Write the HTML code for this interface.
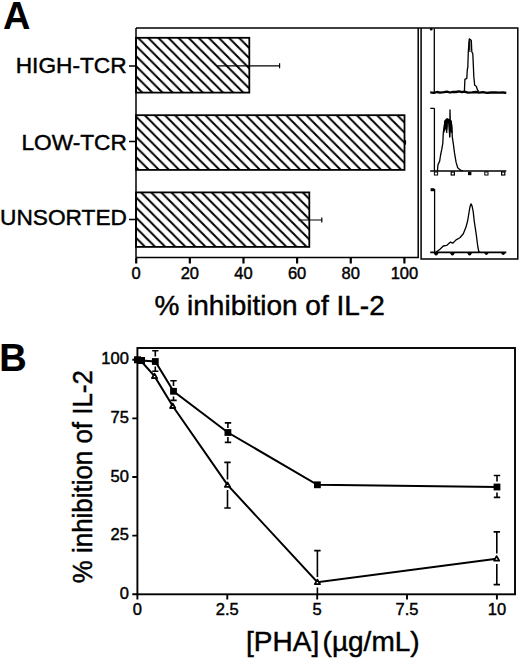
<!DOCTYPE html>
<html><head><meta charset="utf-8"><style>
html,body{margin:0;padding:0;background:#fff;width:520px;height:658px;overflow:hidden}
svg{display:block}
text{font-family:"Liberation Sans",sans-serif;fill:#000;stroke:#000;stroke-width:0.45px}
</style></head><body>
<svg width="520" height="658" viewBox="0 0 520 658">
<defs>
<pattern id="h" patternUnits="userSpaceOnUse" width="10.1" height="10.1" patternTransform="translate(140.6,0)">
<path d="M-5,-5 L15.1,15.1 M-5,5.1 L5,15.1 M5.1,-5 L15.1,5" stroke="#000" stroke-width="2.0" fill="none"/>
</pattern>
</defs>
<!-- Panel A -->
<text x="3.1" y="29" font-size="38" font-weight="bold" style="stroke:none">A</text>
<!-- bars -->
<g stroke="#000" stroke-width="1.8" fill="url(#h)">
<rect x="136" y="37.8" width="113.3" height="54.8"/>
<rect x="136" y="115.2" width="268.5" height="54.7"/>
<rect x="136" y="192.4" width="173.3" height="54.5"/>
</g>
<!-- frames -->
<g stroke="#000" fill="none" stroke-width="1.5">
<path d="M136,28 H517.8 V258.9 H421.1 V28"/>
<path d="M136,257.6 V28 M136,257.6 H418.2 V28"/>
<path d="M129,66 H136 M129,141.5 H136 M129,219.5 H136"/>
</g>
<g stroke="#000" stroke-width="2.2">
<path d="M136.2,257.6 V263.5 M189.84,257.6 V263.5 M243.48,257.6 V263.5 M297.12,257.6 V263.5 M350.76,257.6 V263.5 M404.4,257.6 V263.5"/>
</g>
<!-- error bars -->
<g stroke="#000" stroke-width="1.2" fill="none">
<path d="M217.3,65.8 H279.6 M279.6,63.3 V68.3"/>
<path d="M405.5,140.3 V144.6"/>
<path d="M298.3,220 H321.8 M321.8,217.5 V222.5"/>
</g>
<g font-size="22.7" text-anchor="end" style="stroke-width:0.6px">
<text x="126.6" y="72.6">HIGH-TCR</text>
<text x="126.9" y="149.7">LOW-TCR</text>
<text x="126.9" y="225.2">UNSORTED</text>
</g>
<g font-size="16.5" text-anchor="middle">
<text x="136.2" y="278.8">0</text>
<text x="189.84" y="278.8">20</text>
<text x="243.48" y="278.8">40</text>
<text x="297.12" y="278.8">60</text>
<text x="350.76" y="278.8">80</text>
<text x="404.4" y="278.8">100</text>
</g>
<text x="154.4" y="314.6" font-size="28">% inhibition of IL-2</text>

<!-- histograms -->
<g stroke="#000" fill="none" stroke-width="1.3" stroke-linejoin="round">
<!-- hist1 -->
<path d="M434.3,28.6 V92"/>
<circle cx="431.2" cy="29.3" r="1.3" fill="#000" stroke="none"/>
<polyline stroke-width="2.3" points="430.2,92.4 434,92.8 437,92 440,92.6 444,92.2 447,91.6 450,92.5 453,91.8 456,92 459,91.4 462,92.2 464.4,91.6 468,92.6 472,92.4 476,92 479,92.6 483,92.2 487,92.8 491,92.5 495,92.4 499,92.7 503,92.5 506.3,92.9"/>
<polyline points="464.4,91.2 464.9,79.4 466.8,78.4 467.3,69.5 467.8,67.5 468.3,51.7 468.8,44.8 469.3,38.9 470.3,39.5 471.3,40.4 471.8,51.7 472.8,53.7 473.3,64.6 473.8,76.4 474.7,85.3 476.2,86.3 477.7,90.2 478.7,91.2"/>
<path d="M469.9,40 V52 M469.2,41 V50" stroke-width="1"/>
<!-- hist2 -->
<path d="M434.4,108.2 V171 M430.3,108.4 H434.4"/>
<path d="M430.2,171 H506.3" stroke-width="1.7"/>
<polyline points="437.4,171 438,164.6 439.6,161.4 440.6,155 441.7,149.7 442.8,143.3 443.3,132.7 444.4,125.2 444.9,121 447,118.8 449,119.5 449.7,137 450,109.8 450.3,122 451.2,121 451.8,126.3 452.3,136.9 453.4,144.4 454.5,152.9 456.1,162.4 457.7,167.8 460.9,170.4 463,171"/>
<path d="M443.6,133 L444.4,125.2 L444.9,121 L447,118.8 L451.2,121 L451.8,126.3 L452.1,133 L450.3,131 L449.7,137 L448.7,123 L447.8,123 L446.8,133 L445.5,128 Z" fill="#000" stroke-width="0.8"/>
<!-- hist3 -->
<path d="M434.6,188.9 V252.1"/>
<rect x="430.6" y="188.2" width="3.6" height="3" fill="#000" stroke="none"/>
<path d="M430.2,252.4 H506.3" stroke-width="1.8"/>
<polyline points="436.1,252.1 440,249.3 443.3,246 446.6,245.4 450.5,242.1 452.7,243.2 456.1,239.9 459.9,237.7 463.3,233.8 466,227.1 467.7,220.5 468.8,213.8 469.9,207.2 471,203.8 472.1,206.1 473.2,211.6 474.3,221.6 475.5,229.3 476.6,237.1 477.7,246 478.8,251.5 480,252.3"/>
</g>
<g fill="#000" stroke="none">
<rect x="434.4" y="172" width="3.2" height="3" fill="#fff" stroke="#000" stroke-width="1"/>
<rect x="451.2" y="172" width="3.2" height="3" fill="#fff" stroke="#000" stroke-width="1.2"/>
<rect x="468" y="171.8" width="3.4" height="3.4"/>
<rect x="484.8" y="172" width="3.2" height="3" fill="#fff" stroke="#000" stroke-width="1"/>
<rect x="501.6" y="172" width="3.2" height="3" fill="#fff" stroke="#000" stroke-width="1.2"/>
<path d="M433.6,253 Q436.1,258 438.6,253 Z M450,253 Q452.4,258 454.8,253 Z M467.2,253 Q469.6,258 472,253 Z M484.2,253 Q486.4,257 488.6,253 Z M501,253 Q503.2,257 505.4,253 Z"/>
</g>

<!-- Panel B -->
<text x="-0.8" y="371" font-size="38" font-weight="bold" style="stroke-width:0.2px">B</text>
<g stroke="#000" fill="none" stroke-width="1.9">
<rect x="137.4" y="348" width="377.6" height="246.3"/>
<path d="M132.3,594.3 H137.4 M132.3,535.65 H137.4 M132.3,477 H137.4 M132.3,418.35 H137.4 M132.3,359.7 H137.4"/>
<path d="M137.4,594.3 V599.5 M227.3,594.3 V599.5 M317.2,594.3 V599.5 M407.0,594.3 V599.5 M496.9,594.3 V599.5"/>
</g>
<g font-size="16.5" text-anchor="end">
<text x="128.9" y="364.2">100</text>
<text x="128.9" y="422.85">75</text>
<text x="128.9" y="481.5">50</text>
<text x="128.9" y="540.15">25</text>
<text x="128.9" y="598.8">0</text>
</g>
<g font-size="16.5" text-anchor="middle">
<text x="137.4" y="615">0</text>
<text x="227.3" y="615">2.5</text>
<text x="317.2" y="615">5</text>
<text x="407.0" y="615">7.5</text>
<text x="496.9" y="615">10</text>
</g>
<text font-size="28" transform="translate(92,582.3) rotate(-90) scale(0.925,1)" x="-1">% inhibition of IL-2</text>
<text x="246.1" y="651.3" font-size="28">[PHA]</text>
<text x="322.6" y="651.3" font-size="28">(µg/mL)</text>

<!-- data lines -->
<g stroke="#000" stroke-width="2" fill="none">
<polyline points="137.4,359.7 141.5,360.5 155.3,361.5 173.5,391.3 227.9,432.5 317.4,484.8 497,487"/>
<polyline points="137.5,360 141,361 154.5,376.2 172.7,406 227.5,484.9 317.4,582.3 496.6,558.8"/>
</g>
<!-- error bars -->
<g stroke="#000" stroke-width="1.6" fill="none">
<path d="M152.2,350.8 H158.4 M155.3,350.8 V356.5 M155.3,366.5 V371.2 M152.2,371.2 H158.4"/>
<path d="M170.3,380.8 H176.7 M173.5,380.8 V386 M173.5,396.5 V400.4 M170.3,400.4 H176.7"/>
<path d="M224.8,422.9 H231.2 M227.9,422.9 V428 M227.9,437 V442.4 M224.8,442.4 H231.2"/>
<path d="M493.8,475.5 H500.2 M497,475.5 V481.5 M497,492.5 V497.4 M493.8,497.4 H500.2"/>
<path d="M224.3,462.4 H230.7 M227.5,462.4 V479.5 M227.5,490 V508 M224.3,508 H230.7"/>
<path d="M314.2,550.6 H320.6 M317.4,550.6 V577 M317.4,587.5 V594.3"/>
<path d="M493.6,531.9 H500 M496.8,531.9 V553.5 M496.8,564 V584.6 M493.6,584.6 H500"/>
</g>
<!-- markers -->
<g fill="#000">
<rect x="134" y="356.3" width="7" height="7"/>
<rect x="138" y="357" width="7" height="7"/>
<rect x="151.9" y="358.1" width="6.8" height="6.8"/>
<rect x="170.1" y="387.9" width="6.8" height="6.8"/>
<rect x="224.5" y="429.1" width="6.8" height="6.8"/>
<rect x="314" y="481.4" width="6.8" height="6.8"/>
<rect x="493.6" y="483.6" width="6.8" height="6.8"/>
</g>
<g fill="#fff" stroke="#000" stroke-width="1.8" stroke-linejoin="round">
<path d="M154.5,373.6 L157.1,378.1 L151.9,378.1 Z"/>
<path d="M172.7,403.5 L175.3,408.0 L170.1,408.0 Z"/>
<path d="M227.5,482.4 L230.1,486.9 L224.9,486.9 Z"/>
<path d="M317.4,579.6 L320.0,584.1 L314.8,584.1 Z"/>
<path d="M496.6,556.1 L499.2,560.6 L494.0,560.6 Z"/>
</g>
</svg>
</body></html>
